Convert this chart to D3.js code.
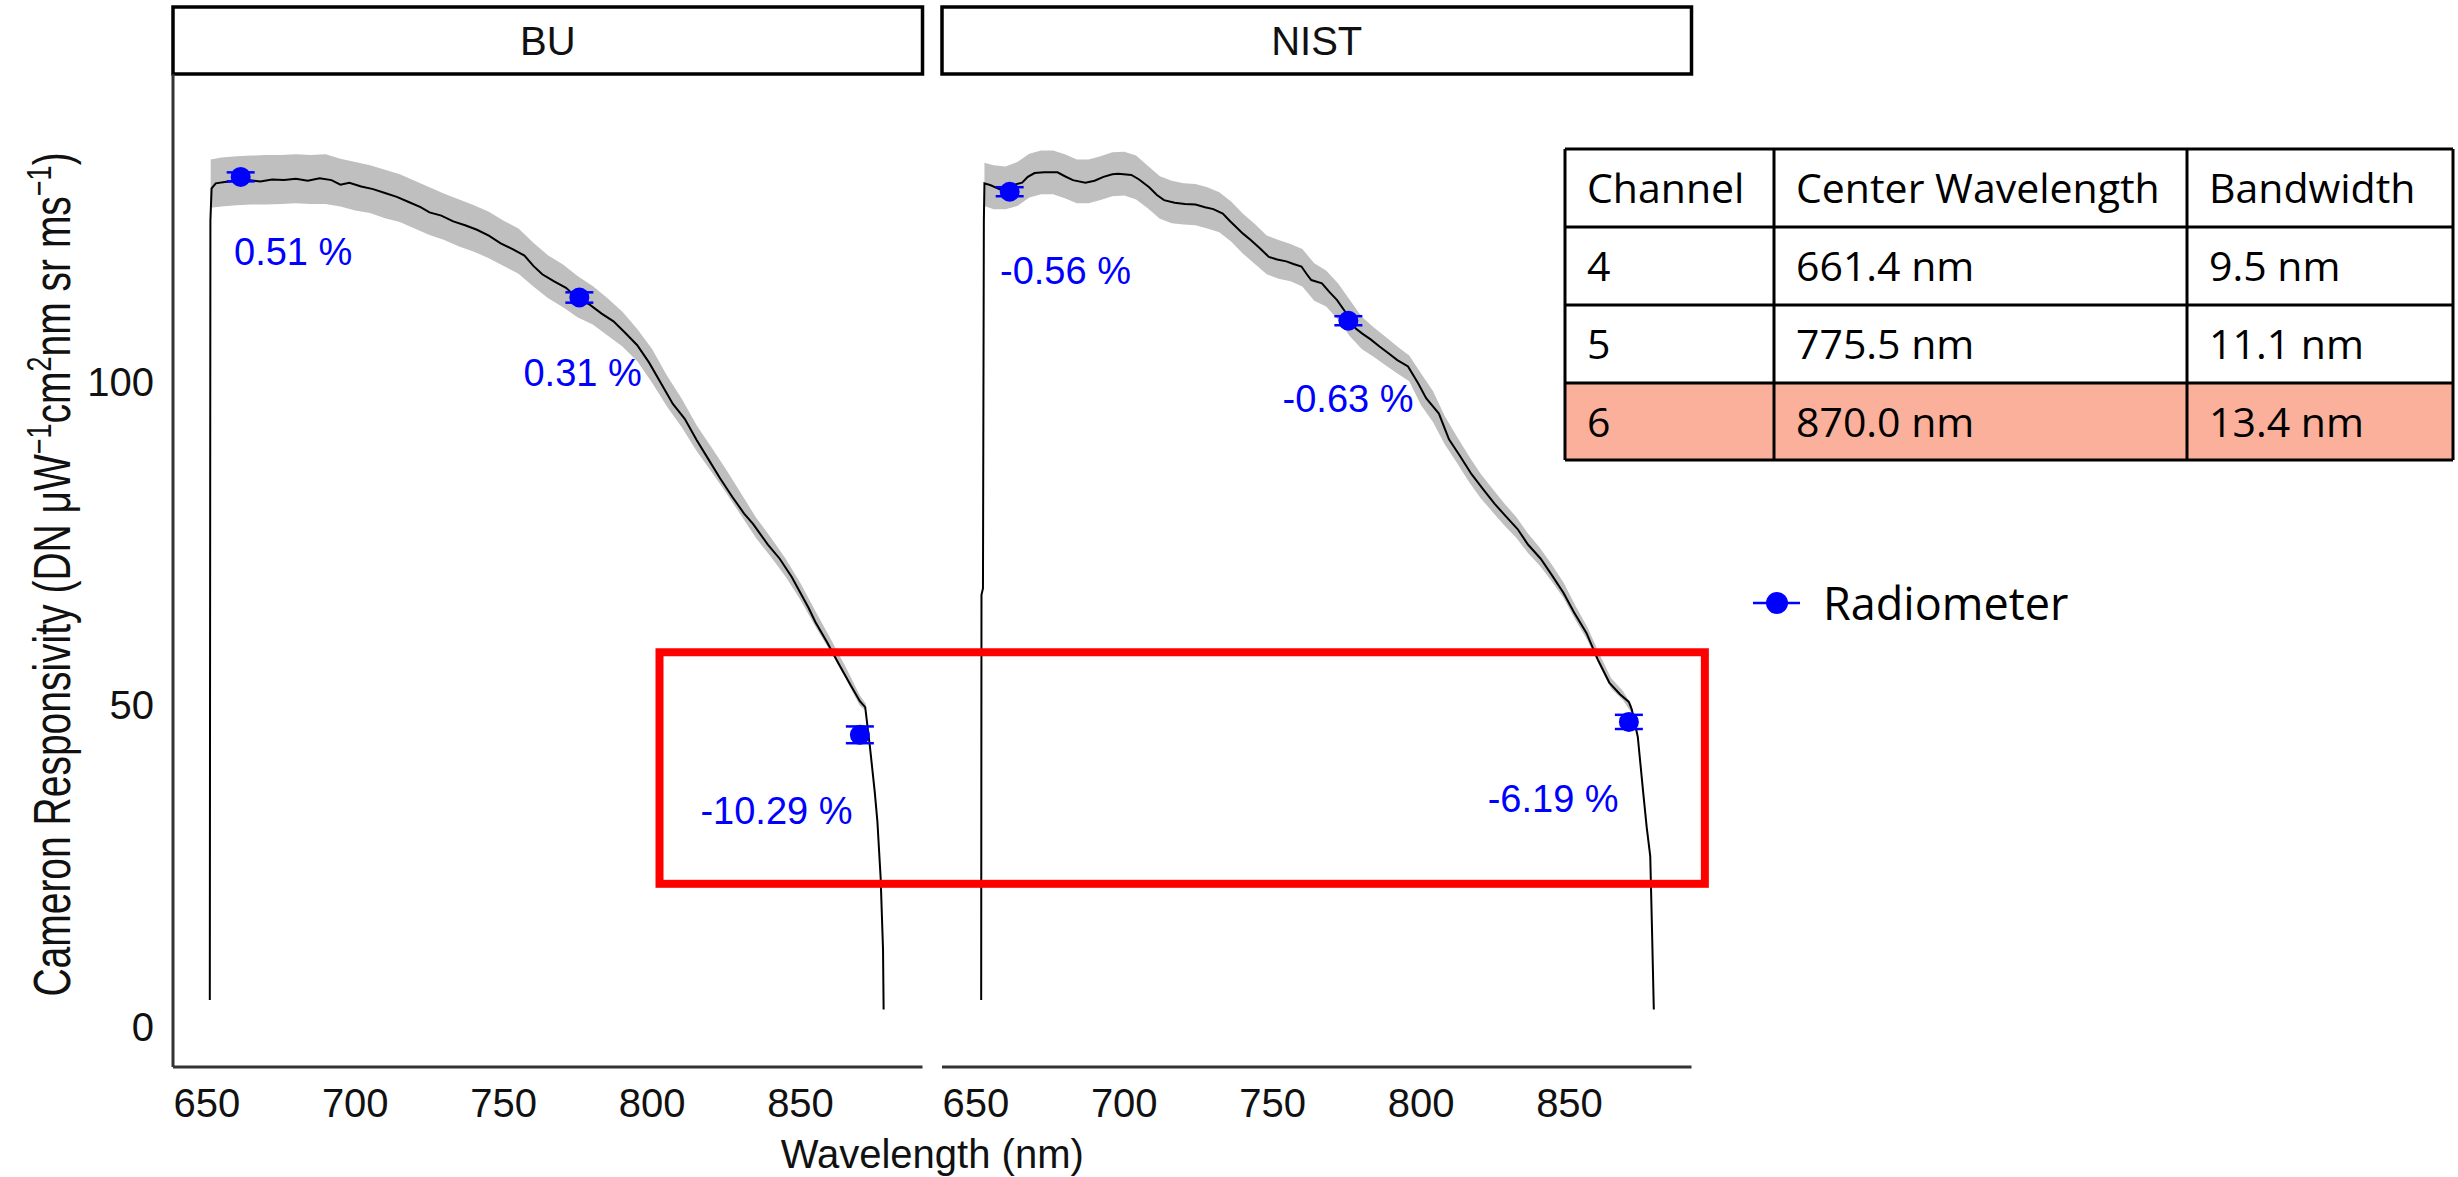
<!DOCTYPE html>
<html>
<head>
<meta charset="utf-8">
<script src="https://cdn.jsdelivr.net/npm/d3@7"></script>
<style>
  body { margin: 0; background: #fff; }
  svg { display: block; }
</style>
</head>
<body>
<div id="chart"></div>
<script>
// ---- data ----
const panels = ["BU", "NIST"];
const xTicks = [650, 700, 750, 800, 850];
const yTicks = [0, 50, 100];

const buWavelength = [651.0, 651.2, 651.6, 653, 656, 660, 664, 668, 672, 676, 680, 684, 688, 692, 695, 698, 702, 706, 710, 714, 718, 722, 725, 729, 733, 737, 741, 745, 749, 753, 757, 760, 763, 767, 771, 775, 779, 783, 787, 791, 795, 799, 803, 807, 811, 815, 819, 823, 827, 831, 834, 839, 843, 847, 852.7, 855, 859, 863, 867, 870, 871.8, 873.4, 875, 875.9, 877, 877.8, 878];
const buResponsivity = [4.2, 125, 130.0, 130.8, 131.0, 131.2, 131.3, 131.1, 131.4, 131.3, 131.5, 131.2, 131.6, 131.3, 130.6, 130.9, 130.3, 129.9, 129.3, 128.7, 127.9, 127.1, 126.3, 125.8, 124.9, 124.3, 123.6, 122.7, 121.5, 120.6, 119.6, 118.0, 116.7, 115.6, 114.6, 112.9, 112.0, 110.6, 109.4, 107.6, 105.7, 103.0, 99.8, 96.6, 94.3, 91.0, 88.0, 85.0, 82.2, 79.6, 78.0, 74.8, 72.6, 69.8, 65.0, 62.8, 59.6, 56.2, 52.9, 50.5, 49.6, 43.4, 36.5, 31.9, 23.1, 12.0, 2.7];

const buBandNm = [651.3, 655, 660, 665, 670, 675, 680, 685, 690, 695, 700, 705, 710, 715, 720, 725, 730, 735, 740, 745, 750, 755, 760, 765, 770, 775, 780, 785, 790, 795, 800, 805, 810, 815, 820, 825, 830, 835, 840, 845, 850, 855, 860, 865, 870, 872];
const buBandLow = [127.0, 127.2, 127.4, 127.5, 127.5, 127.6, 127.7, 127.6, 127.6, 127.2, 126.6, 126.2, 125.4, 124.8, 123.8, 122.8, 122.0, 121.0, 120.2, 119.2, 118.0, 116.8, 114.8, 113.0, 111.6, 110.0, 108.9, 107.2, 105.5, 103.2, 99.9, 96.2, 93.0, 89.3, 86.1, 82.8, 79.3, 75.8, 72.9, 69.8, 66.2, 62.1, 58.3, 54.2, 49.8, 49.0];
const buBandHigh = [134.5, 134.8, 135.0, 135.1, 135.2, 135.2, 135.3, 135.2, 135.3, 134.6, 134.1, 133.6, 132.9, 132.2, 131.2, 130.2, 129.2, 128.3, 127.4, 126.4, 125.0, 123.8, 121.6, 119.6, 118.2, 116.4, 114.9, 113.0, 110.9, 108.2, 105.1, 101.0, 97.4, 93.3, 89.9, 86.4, 82.7, 79.0, 75.9, 72.6, 68.8, 64.5, 60.3, 56.0, 51.4, 50.1];

const nistWavelength = [651.8, 651.9, 652.4, 652.7, 652.9, 655, 658, 661.4, 663, 665.6, 667.5, 669.8, 673, 677.5, 680, 682.7, 686.9, 690, 693, 696, 698, 702.4, 705, 708.4, 711, 713.4, 717, 720.4, 724, 727.2, 730, 733.2, 735.5, 737.5, 740, 742.6, 745.5, 748.7, 751.5, 754.6, 757, 759.7, 761.5, 763, 766.6, 769, 771.7, 775.5, 778, 780.2, 783, 786, 788.9, 792, 795.6, 799, 801.7, 806, 809.4, 813, 817, 821, 824.8, 828.5, 832.5, 836, 840.3, 844, 848, 851.5, 855.7, 859.5, 863.4, 867, 870, 871, 873, 874.8, 876, 877.2, 877.8, 878.4];
const nistResponsivity = [4.2, 67, 68, 125, 130.8, 130.5, 129.9, 130.2, 130.6, 130.9, 131.8, 132.4, 132.5, 132.5, 131.9, 131.3, 130.9, 131.2, 131.8, 132.2, 132.3, 132.1, 131.4, 130.2, 129.0, 128.2, 127.8, 127.6, 127.5, 127.1, 126.8, 126.1, 125.0, 124.1, 123.0, 122.0, 120.8, 119.4, 119.0, 118.7, 118.3, 117.9, 116.7, 115.8, 115.3, 114.0, 112.7, 110.2, 108.3, 107.5, 106.6, 105.5, 104.5, 103.4, 102.4, 99.8, 97.5, 95.1, 91.1, 88.6, 85.7, 83.3, 81.1, 79.2, 77.2, 74.8, 72.6, 70.1, 67.3, 64.3, 61.1, 57.0, 53.4, 51.6, 50.4, 49.2, 45.0, 36.5, 31.0, 26.5, 15.0, 2.7];

const nistBandNm = [652.9, 656, 660, 664, 668, 672, 676, 680, 684, 688, 692, 696, 700, 704, 708, 712, 716, 720, 724, 728, 732, 736, 740, 744, 748, 752, 756, 760, 764, 768, 772, 776, 780, 784, 788, 792, 796, 800, 804, 808, 812, 816, 820, 824, 828, 832, 836, 840, 844, 848, 852, 856, 860, 864, 868, 871];
const nistBandLow = [127.3, 126.8, 126.8, 127.3, 128.6, 129.1, 129.1, 128.5, 127.7, 127.7, 128.2, 128.8, 128.9, 128.3, 126.9, 125.3, 124.6, 124.4, 124.3, 123.8, 123.2, 121.8, 119.9, 118.3, 116.7, 116.0, 115.6, 114.8, 112.6, 111.7, 109.7, 107.1, 105.1, 103.9, 102.6, 101.3, 100.1, 96.4, 93.8, 90.3, 87.5, 84.6, 82.0, 79.9, 77.8, 75.9, 73.5, 71.5, 69.1, 66.5, 63.1, 60.0, 56.1, 52.5, 50.7, 48.6];
const nistBandHigh = [134.0, 133.6, 133.4, 134.1, 135.4, 135.9, 135.9, 135.3, 134.5, 134.5, 135.0, 135.6, 135.7, 135.1, 133.5, 131.9, 131.2, 130.8, 130.7, 130.2, 129.4, 128.0, 126.1, 124.5, 122.7, 122.0, 121.4, 120.6, 118.4, 117.3, 115.3, 112.7, 110.1, 108.5, 107.0, 105.5, 104.1, 101.3, 98.6, 94.7, 91.6, 88.6, 85.8, 83.5, 81.2, 79.1, 76.5, 74.3, 71.7, 68.9, 65.3, 62.0, 57.9, 54.1, 52.1, 49.8];

const radiometerWavelength = [661.4, 775.5, 870.0];
const buRadiometer = [131.8, 113.1, 45.3];
const buRadiometerErr = [0.7, 0.8, 1.3];
const nistRadiometer = [129.5, 109.5, 47.3];
const nistRadiometerErr = [0.7, 0.7, 1.1];

const buDiffLabels = ["0.51 %", "0.31 %", "-10.29 %"];
const buLabelNm = [679.1, 776.6, 841.9];
const buLabelValue = [120.1, 101.4, 33.5];
const nistDiffLabels = ["-0.56 %", "-0.63 %", "-6.19 %"];
const nistLabelNm = [680.2, 775.4, 844.5];
const nistLabelValue = [117.2, 97.4, 35.3];

// highlight box (left edge in BU panel, right edge in NIST panel)
const boxFromNm = 802.5, boxToNm = 895.6, boxTop = 58.1, boxBottom = 22.2;

const tableHeader = ["Channel", "Center Wavelength", "Bandwidth"];
const tableChannel = ["4", "5", "6"];
const tableCenter = ["661.4 nm", "775.5 nm", "870.0 nm"];
const tableBandwidth = ["9.5 nm", "11.1 nm", "13.4 nm"];
const highlightRow = 2;

const legendLabel = "Radiometer";

// ---- layout ----
const W = 2458, H = 1177;
const panelLeft = { BU: 173, NIST: 942 };
const panelW = 749.5;
const panelTop = 74, panelBottom = 1067;
const stripTop = 7;
const font = "'Liberation Sans', Arial, sans-serif";
const officeFont = "'Open Sans', sans-serif";

const svg = d3.select("#chart").append("svg")
  .attr("width", W).attr("height", H);

const y = d3.scaleLinear().domain([-6.2, 147.75]).range([panelBottom, panelTop]);

const xScales = {};
panels.forEach((p) => {
  xScales[p] = d3.scaleLinear().domain([638.6, 891.1])
    .range([panelLeft[p], panelLeft[p] + panelW]);
});

const series = {
  BU: {
    line: buWavelength.map((d, i) => [d, buResponsivity[i]]),
    band: buBandNm.map((d, i) => [d, buBandLow[i], buBandHigh[i]]),
    pts: radiometerWavelength.map((d, i) => [d, buRadiometer[i], buRadiometerErr[i]]),
    labels: buDiffLabels.map((t, i) => [t, buLabelNm[i], buLabelValue[i]]),
  },
  NIST: {
    line: nistWavelength.map((d, i) => [d, nistResponsivity[i]]),
    band: nistBandNm.map((d, i) => [d, nistBandLow[i], nistBandHigh[i]]),
    pts: radiometerWavelength.map((d, i) => [d, nistRadiometer[i], nistRadiometerErr[i]]),
    labels: nistDiffLabels.map((t, i) => [t, nistLabelNm[i], nistLabelValue[i]]),
  },
};

panels.forEach((p) => {
  const x = xScales[p];
  const g = svg.append("g").attr("class", "panel-" + p);
  const s = series[p];

  // strip
  g.append("rect")
    .attr("x", x.range()[0]).attr("y", stripTop)
    .attr("width", panelW).attr("height", panelTop - stripTop)
    .attr("fill", "#fff").attr("stroke", "#000").attr("stroke-width", 3.5);
  g.append("text")
    .attr("x", (x.range()[0] + x.range()[1]) / 2)
    .attr("y", (stripTop + panelTop) / 2 + 14)
    .attr("text-anchor", "middle")
    .style("font-family", font).style("font-size", "40px").attr("fill", "#111")
    .text(p);

  // x axis line + labels
  g.append("line")
    .attr("x1", x.range()[0]).attr("x2", x.range()[1])
    .attr("y1", panelBottom).attr("y2", panelBottom)
    .attr("stroke", "#333").attr("stroke-width", 3);
  g.selectAll(".xt").data(xTicks).enter().append("text")
    .attr("x", (d) => x(d)).attr("y", panelBottom + 50)
    .attr("text-anchor", "middle")
    .style("font-family", font).style("font-size", "40px").attr("fill", "#111")
    .text((d) => d);

  // ribbon and line
  g.append("path").datum(s.band)
    .attr("fill", "#bfbfbf")
    .attr("d", d3.area().x((d) => x(d[0])).y0((d) => y(d[1])).y1((d) => y(d[2])));
  g.append("path").datum(s.line)
    .attr("fill", "none").attr("stroke", "#000").attr("stroke-width", 2)
    .attr("d", d3.line().x((d) => x(d[0])).y((d) => y(d[1])));

  // radiometer points with error bars
  const pg = g.selectAll(".pt").data(s.pts).enter().append("g");
  pg.append("line")
    .attr("x1", (d) => x(d[0])).attr("x2", (d) => x(d[0]))
    .attr("y1", (d) => y(d[1] - d[2])).attr("y2", (d) => y(d[1] + d[2]))
    .attr("stroke", "#0000ff").attr("stroke-width", 2.5);
  [-1, 1].forEach((sgn) => {
    pg.append("line")
      .attr("x1", (d) => x(d[0]) - 14).attr("x2", (d) => x(d[0]) + 14)
      .attr("y1", (d) => y(d[1] + sgn * d[2])).attr("y2", (d) => y(d[1] + sgn * d[2]))
      .attr("stroke", "#0000ff").attr("stroke-width", 2.5);
  });
  pg.append("circle")
    .attr("cx", (d) => x(d[0])).attr("cy", (d) => y(d[1]))
    .attr("r", 10).attr("fill", "#0000ff");

  // percent labels
  g.selectAll(".lab").data(s.labels).enter().append("text")
    .attr("x", (d) => x(d[1])).attr("y", (d) => y(d[2]) + 13)
    .attr("text-anchor", "middle")
    .style("font-family", font).style("font-size", "38px").attr("fill", "#0000ff")
    .text((d) => d[0]);
});

// y axis (first panel only)
const xb = xScales.BU;
svg.append("line")
  .attr("x1", xb.range()[0]).attr("x2", xb.range()[0])
  .attr("y1", panelTop).attr("y2", panelBottom)
  .attr("stroke", "#333").attr("stroke-width", 3);
svg.selectAll(".yt").data(yTicks).enter().append("text")
  .attr("x", xb.range()[0] - 19).attr("y", (d) => y(d) + 14)
  .attr("text-anchor", "end")
  .style("font-family", font).style("font-size", "40px").attr("fill", "#111")
  .text((d) => d);

// axis titles
svg.append("text")
  .attr("x", (xScales.BU.range()[0] + xScales.NIST.range()[1]) / 2)
  .attr("y", 1168)
  .attr("text-anchor", "middle")
  .style("font-family", font).style("font-size", "40px").attr("fill", "#111")
  .text("Wavelength (nm)");

const yt = svg.append("text")
  .attr("transform", `translate(70,${(panelTop + panelBottom) / 2 + 4}) rotate(-90) scale(1,1.33)`)
  .attr("text-anchor", "middle")
  .style("font-family", font).style("font-size", "39px").attr("fill", "#111");
const ytParts = [
  ["Cameron Responsivity (DN \u03bcW", false], ["\u22121", true], ["cm", false], ["2", true],
  ["nm sr ms", false], ["\u22121", true], [")", false],
];
let raised = false;
ytParts.forEach(([t, sup]) => {
  const dy = sup ? -14 : (raised ? 14 : 0);
  raised = sup;
  yt.append("tspan")
    .attr("dy", dy)
    .style("font-size", sup ? "27px" : "39px")
    .text(t);
});

// highlight box
const bx0 = xScales.BU(boxFromNm), bx1 = xScales.NIST(boxToNm);
svg.append("rect")
  .attr("x", bx0).attr("y", y(boxTop))
  .attr("width", bx1 - bx0).attr("height", y(boxBottom) - y(boxTop))
  .attr("fill", "none").attr("stroke", "#ff0000").attr("stroke-width", 8);

// table
const colX = [1565, 1774, 2187, 2453];
const rowY = [149, 227, 305, 383, 460];
const rows = [tableHeader].concat(tableChannel.map((c, i) => [c, tableCenter[i], tableBandwidth[i]]));
const tg = svg.append("g");
tg.append("rect")
  .attr("x", colX[0]).attr("y", rowY[highlightRow + 1])
  .attr("width", colX[3] - colX[0]).attr("height", rowY[highlightRow + 2] - rowY[highlightRow + 1])
  .attr("fill", "#fab09b");
rows.forEach((r, ri) => {
  r.forEach((t, ci) => {
    tg.append("text")
      .attr("x", colX[ci] + 22).attr("y", (rowY[ri] + rowY[ri + 1]) / 2 + 15)
      .style("font-family", officeFont).style("font-size", "41px")
      .attr("fill", "#000")
      .text(t);
  });
});
colX.forEach((cx) => {
  tg.append("line").attr("x1", cx).attr("x2", cx).attr("y1", rowY[0]).attr("y2", rowY[4])
    .attr("stroke", "#000").attr("stroke-width", 3);
});
rowY.forEach((ry) => {
  tg.append("line").attr("x1", colX[0]).attr("x2", colX[3]).attr("y1", ry).attr("y2", ry)
    .attr("stroke", "#000").attr("stroke-width", 3);
});

// legend
const lg = svg.append("g").attr("transform", "translate(1777,603)");
lg.append("line").attr("x1", -24).attr("x2", 23).attr("y1", 0).attr("y2", 0)
  .attr("stroke", "#0000ff").attr("stroke-width", 2.5);
lg.append("circle").attr("r", 11).attr("fill", "#0000ff");
lg.append("text").attr("x", 46).attr("y", 17)
  .style("font-family", officeFont).style("font-size", "45px")
  .attr("fill", "#000")
  .text(legendLabel);
</script>
</body>
</html>
